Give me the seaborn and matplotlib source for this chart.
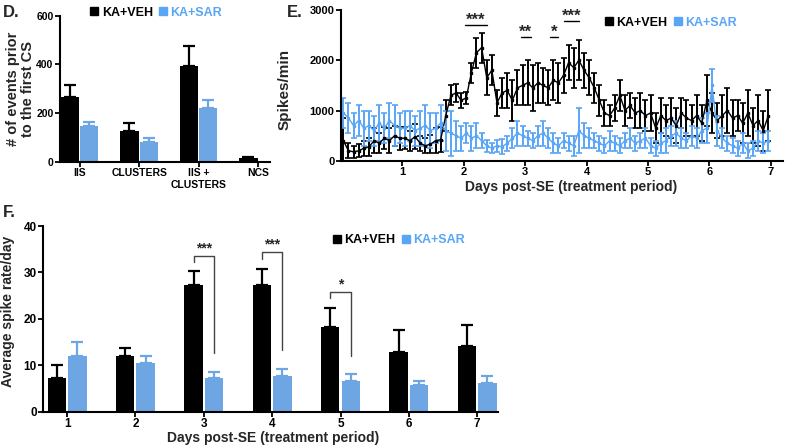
import numpy as np
import pandas as pd
import matplotlib
matplotlib.use('Agg')
import matplotlib.pyplot as plt
from matplotlib.lines import Line2D
import seaborn as sns

# ---- data ----
blue = '#59a5f6'

# panel D
cats_d = ['IIS', 'CLUSTERS', 'IIS +\nCLUSTERS', 'NCS']
veh_d = [265, 125, 392, 15]
veh_d_err = [50, 35, 85, 4]
sar_d = [147, 80, 222, 0]
sar_d_err = [18, 18, 33, 0]

# panel E (2 h bins over 7 days)
hours_e = np.arange(1, 168, 2)
veh_e = [400, 200, 180, 200, 250, 280, 400, 350, 450, 400, 500, 450,
         450, 400, 480, 350, 300, 330, 400, 420, 900, 1300, 1350, 1200,
         1250, 1750, 2150, 2250, 1650, 1800, 1150, 1350, 1400, 1200, 1450, 1500,
         1550, 1450, 1550, 1500, 1450, 1600, 1550, 1700, 1950, 1850, 2000, 1800,
         1650, 1450, 1200, 950, 900, 1050, 1300, 1000, 1100, 950, 1000, 900,
         950, 650, 900, 800, 850, 700, 950, 850, 800, 900, 750, 1200,
         950, 800, 900, 1000, 850, 900, 750, 950, 700, 800, 600, 900]
veh_e_err = [450, 150, 120, 130, 150, 180, 250, 200, 220, 250, 200, 230,
             220, 200, 250, 150, 150, 180, 250, 250, 300, 200, 180, 150,
             120, 200, 300, 300, 350, 300, 250, 300, 350, 400, 350, 400,
             450, 450, 400, 350, 350, 400, 400, 350, 350, 400, 400, 350,
             350, 300, 300, 250, 200, 250, 300, 300, 250, 300, 350, 300,
             350, 300, 350, 300, 400, 350, 300, 350, 300, 400, 350, 500,
             400, 350, 400, 450, 350, 300, 400, 450, 350, 500, 400, 500]
sar_e = [950, 850, 700, 800, 650, 700, 600, 750, 650, 800, 700, 650,
         650, 700, 600, 650, 700, 600, 650, 750, 600, 550, 500, 450,
         550, 450, 500, 400, 300, 250, 300, 280, 350, 450, 550, 500,
         450, 400, 500, 550, 450, 350, 300, 400, 350, 300, 600, 500,
         450, 400, 350, 300, 400, 350, 300, 400, 450, 350, 400, 450,
         300, 250, 350, 400, 500, 550, 450, 400, 500, 450, 600, 650,
         1500, 600, 450, 350, 300, 250, 350, 200, 250, 400, 350, 400]
sar_e_err = [300, 300, 250, 300, 350, 300, 300, 350, 300, 350, 400, 300,
             350, 300, 300, 350, 400, 350, 300, 350, 400, 450, 300, 250,
             200, 250, 250, 150, 120, 100, 120, 150, 150, 200, 250, 200,
             150, 150, 200, 250, 200, 200, 150, 150, 150, 200, 450, 250,
             200, 150, 150, 150, 200, 150, 150, 150, 200, 150, 150, 200,
             150, 150, 200, 250, 200, 250, 200, 150, 200, 200, 250, 300,
             330, 300, 200, 150, 150, 150, 200, 150, 150, 200, 200, 200]
sig_e_start = [2.02, 2.93, 3.40, 3.64]
sig_e_end = [2.38, 3.09, 3.54, 3.87]
sig_e_y = [2700, 2470, 2470, 2780]
sig_e_lbl = ['***', '**', '*', '***']

# panel F
days_f = ['1', '2', '3', '4', '5', '6', '7']
veh_f = [7.2, 11.9, 27.2, 27.2, 18.2, 12.9, 14.2]
veh_f_err = [2.8, 1.8, 3.2, 3.6, 4.1, 4.8, 4.5]
sar_f = [12.0, 10.5, 7.2, 7.6, 6.6, 5.75, 6.25]
sar_f_err = [3.0, 1.5, 1.3, 1.6, 1.6, 0.85, 1.5]
sig_f_idx = [2, 3, 4]
sig_f_lbl = ['***', '***', '*']
sig_f_top = [33.5, 34.3, 25.7]
sig_f_left = [32.3, 33.0, 24.4]
sig_f_right = [12.6, 13.4, 12.1]

# ---- style ----
sns.set_theme(style='ticks')
plt.rcParams['font.family'] = ['Liberation Sans', 'DejaVu Sans']
plt.rcParams['font.weight'] = 'bold'
plt.rcParams['axes.labelweight'] = 'bold'
plt.rcParams['axes.linewidth'] = 1.5
for a in ('xtick', 'ytick'):
    plt.rcParams[a + '.major.width'] = 1.3
    plt.rcParams[a + '.major.size'] = 3.5
    plt.rcParams[a + '.major.pad'] = 1.2
    plt.rcParams[a + '.color'] = 'black'
plt.rcParams['axes.edgecolor'] = 'black'

pal = {'KA+VEH': 'black', 'KA+SAR': blue}


def add_legend(ax, x, y, size):
    handles = [Line2D([], [], marker='s', ls='none', color='black', ms=6),
               Line2D([], [], marker='s', ls='none', color=blue, ms=6)]
    ax.legend(handles, ['KA+VEH', 'KA+SAR'], ncol=2, frameon=False,
              loc='center', bbox_to_anchor=(x, y), handletextpad=0.2,
              columnspacing=0.4, handlelength=0.8, labelcolor=['black', blue],
              prop={'weight': 'bold', 'size': size})


def bar_errors(ax, errs):
    for bar, err in zip(ax.patches, errs):
        if err > 0:
            cx = bar.get_x() + bar.get_width() / 2
            ax.errorbar(cx, bar.get_height(), yerr=[[0], [err]],
                        color=bar.get_facecolor(), capsize=4,
                        elinewidth=1.6, capthick=1.6)


fig = plt.figure(figsize=(8, 4.48), dpi=100)

# ---- D ----
axD = fig.add_axes([0.075, 0.639, 0.2625, 0.326])
df_d = pd.DataFrame({'cat': cats_d * 2, 'val': veh_d + sar_d,
                     'grp': ['KA+VEH'] * 4 + ['KA+SAR'] * 4})
sns.barplot(data=df_d, x='cat', y='val', hue='grp', palette=pal, width=0.65,
            gap=0.05, errorbar=None, legend=False, linewidth=0, ax=axD)
bar_errors(axD, veh_d_err + sar_d_err)
axD.set_xlim(-0.33, 3.2)
axD.set_ylim(0, 600)
axD.set_yticks([0, 200, 400, 600])
axD.set_xlabel('')
axD.set_ylabel('# of events prior\nto the first CS', fontsize=10.5,
               linespacing=1.05)
axD.yaxis.set_label_coords(-0.12, 0.5)
axD.tick_params(labelsize=7.5)
add_legend(axD, 0.455, 1.02, 9)
sns.despine(ax=axD)

# ---- E ----
axE = fig.add_axes([0.426, 0.641, 0.553, 0.337])
days_e = hours_e / 24
axE.errorbar(days_e, veh_e, yerr=veh_e_err, fmt='-s', color='black', ms=2,
             lw=1.0, capsize=2.2, elinewidth=1.4, capthick=1.2)
axE.errorbar(days_e, sar_e, yerr=sar_e_err, fmt='-s', color=blue, ms=2,
             lw=1.0, capsize=2.2, elinewidth=1.4, capthick=1.2)
for x0, x1, y, lbl in zip(sig_e_start, sig_e_end, sig_e_y, sig_e_lbl):
    axE.plot([x0, x1], [y, y], color='black', lw=1)
    axE.text((x0 + x1) / 2, y - 60, lbl, ha='center', va='bottom',
             fontsize=12, fontweight='bold')
axE.set_xlim(0, 7.2)
axE.set_ylim(0, 3000)
axE.set_xticks([1, 2, 3, 4, 5, 6, 7])
axE.set_yticks([0, 1000, 2000, 3000])
axE.set_xlabel('Days post-SE (treatment period)', fontsize=10)
axE.xaxis.set_label_coords(0.52, -0.125)
axE.set_ylabel('Spikes/min', fontsize=11)
axE.yaxis.set_label_coords(-0.111, 0.47)
axE.tick_params(labelsize=8)
add_legend(axE, 0.745, 0.916, 9)
sns.despine(ax=axE)

# ---- F ----
axF = fig.add_axes([0.054, 0.081, 0.569, 0.4145])
df_f = pd.DataFrame({'day': days_f * 2, 'val': veh_f + sar_f,
                     'grp': ['KA+VEH'] * 7 + ['KA+SAR'] * 7})
sns.barplot(data=df_f, x='day', y='val', hue='grp', palette=pal, width=0.6,
            gap=0.1, errorbar=None, legend=False, linewidth=0, ax=axF)
bar_errors(axF, veh_f_err + sar_f_err)
n = len(days_f)
for i, lbl, top, lb, rb in zip(sig_f_idx, sig_f_lbl, sig_f_top, sig_f_left,
                               sig_f_right):
    b1, b2 = axF.patches[i], axF.patches[n + i]
    x1 = b1.get_x() + b1.get_width() / 2
    x2 = b2.get_x() + b2.get_width() / 2
    axF.plot([x1, x1, x2, x2], [lb, top, top, rb], color='#444444', lw=1)
    axF.text((x1 + x2) / 2, top + 0.2, lbl, ha='center', va='bottom',
             fontsize=10, fontweight='bold')
axF.set_xlim(-0.35, 6.31)
axF.set_ylim(0, 40)
axF.set_yticks([0, 10, 20, 30, 40])
axF.set_xlabel('Days post-SE (treatment period)', fontsize=10)
axF.xaxis.set_label_coords(0.505, -0.105)
axF.set_ylabel('Average spike rate/day', fontsize=10)
axF.yaxis.set_label_coords(-0.062, 0.54)
axF.tick_params(labelsize=8.5)
add_legend(axF, 0.78, 0.925, 9)
sns.despine(ax=axF)

# panel letters
fig.text(0.003, 0.971, 'D.', fontsize=12, fontweight='bold', va='center')
fig.text(0.358, 0.971, 'E.', fontsize=12, fontweight='bold', va='center')
fig.text(0.003, 0.525, 'F.', fontsize=12, fontweight='bold', va='center')

fig.savefig('out.png', dpi=100)
